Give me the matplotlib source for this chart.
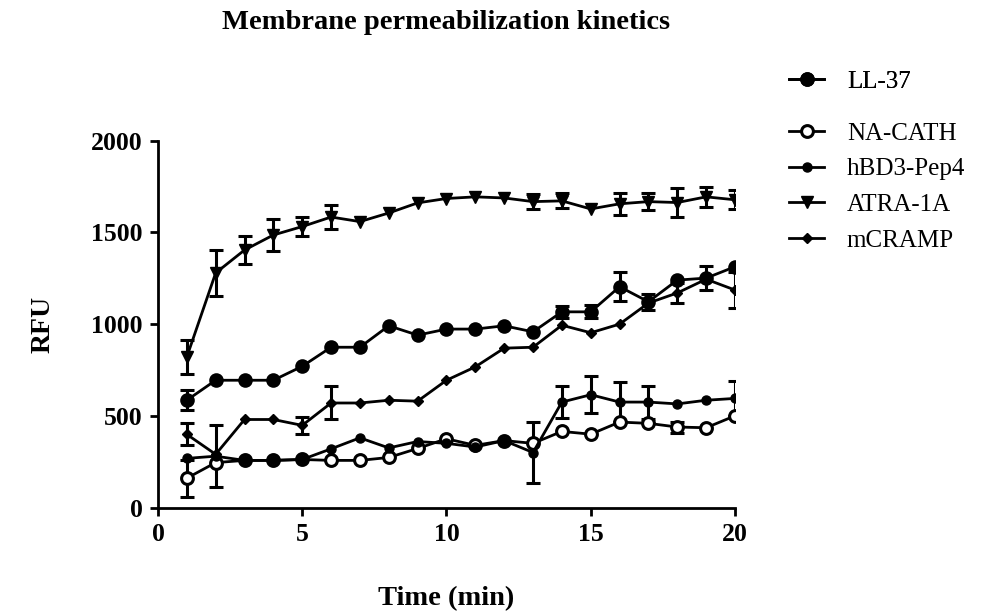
import matplotlib
matplotlib.use('Agg')
import matplotlib.pyplot as plt
from matplotlib.lines import Line2D
import numpy as np

# Data
time_min = np.arange(1, 21)

ll37 = [585, 694, 694, 694, 770, 874, 874, 991, 940, 973,
        973, 991, 958, 1067, 1067, 1204, 1122, 1240, 1251, 1313]
ll37_err = [55, 0, 0, 0, 0, 0, 0, 0, 0, 0,
            0, 0, 0, 32, 35, 78, 45, 0, 65, 0]

nacath = [160, 245, 257, 257, 262, 257, 257, 273, 322, 375,
          339, 365, 350, 415, 400, 466, 459, 439, 435, 500]
nacath_err = [100, 0, 0, 0, 0, 0, 0, 0, 0, 0,
              0, 0, 0, 0, 0, 0, 0, 30, 0, 0]

hbd3 = [268, 280, 257, 257, 262, 320, 380, 325, 360, 350,
        330, 365, 300, 575, 615, 575, 575, 565, 585, 595]
hbd3_err = [0, 170, 0, 0, 0, 0, 0, 0, 0, 0,
            0, 0, 165, 85, 100, 110, 90, 0, 0, 95]

atra = [821, 1279, 1404, 1486, 1532, 1584, 1559, 1606, 1661, 1685,
        1694, 1688, 1668, 1672, 1628, 1656, 1668, 1663, 1694, 1678]
atra_err = [95, 125, 77, 88, 52, 63, 0, 0, 0, 0,
            0, 0, 41, 41, 0, 60, 47, 79, 55, 52]

mcramp = [399, 290, 480, 480, 448, 570, 570, 585, 580, 694,
          767, 869, 874, 994, 953, 1000, 1115, 1170, 1245, 1186]
mcramp_err = [60, 0, 0, 0, 45, 90, 0, 0, 0, 0,
              0, 0, 0, 0, 0, 0, 0, 55, 0, 100]

labels = ['LL-37', 'NA-CATH', 'hBD3-Pep4', 'ATRA-1A', 'mCRAMP']

plt.rcParams['font.family'] = ['Liberation Serif', 'DejaVu Serif']

fig = plt.figure(figsize=(9.83, 6.14), dpi=100)
ax = fig.add_axes([0.1607, 0.1734, 0.587, 0.5974])

styles = [
    dict(marker='o', ms=9, mfc='black', mec='black', mew=1.5),
    dict(marker='o', ms=8.5, mfc='white', mec='black', mew=2.2),
    dict(marker='o', ms=6.5, mfc='black', mec='black', mew=1.0),
    dict(marker='v', ms=9, mfc='black', mec='black', mew=1.0),
    dict(marker='D', ms=5.5, mfc='black', mec='black', mew=1.0),
]
series = [(ll37, ll37_err), (nacath, nacath_err), (hbd3, hbd3_err),
          (atra, atra_err), (mcramp, mcramp_err)]

handles = []
for (vals, errs), st, lab in zip(series, styles, labels):
    vals = np.array(vals, dtype=float)
    errs = np.array(errs, dtype=float)
    m = errs > 0
    # only draw bars that stick out of the marker
    ax.errorbar(time_min[m], vals[m], yerr=errs[m], fmt='none', ecolor='black',
                elinewidth=2.2, capsize=4.8, capthick=2.2, zorder=2)
    ax.plot(time_min, vals, color='black', lw=2.0, zorder=3, **st)
    handles.append(Line2D([], [], color='black', lw=2.0, label=lab, **st))

ax.set_xlim(0, 20)
ax.set_ylim(0, 2000)
ax.set_xticks([0, 5, 10, 15, 20])
ax.set_yticks([0, 500, 1000, 1500, 2000])
for side in ['top', 'right']:
    ax.spines[side].set_visible(False)
for side in ['left', 'bottom']:
    ax.spines[side].set_linewidth(2.0)
ax.tick_params(direction='out', length=6, width=2.0, pad=5,
               labelsize=18.5)
for t in ax.get_xticklabels() + ax.get_yticklabels():
    t.set_fontweight('bold')

ax.set_xlabel('Time (min)', fontsize=20.5, fontweight='bold')
ax.set_ylabel('RFU', fontsize=20, fontweight='bold')
ax.xaxis.set_label_coords(0.5, -0.215)
ax.yaxis.set_label_coords(-0.178, 0.5)

fig.text(0.4537, 0.963, 'Membrane permeabilization kinetics', ha='center',
         va='center', fontsize=20.5, fontweight='bold')

leg_kw = dict(loc='upper left', frameon=False, fontsize=18, handlelength=1.4,
              handletextpad=0.9, borderpad=0, borderaxespad=0)
leg1 = fig.legend(handles=handles[:1], bbox_to_anchor=(0.803, 1 - 70 / 614),
                  **leg_kw)
fig.add_artist(leg1)
fig.legend(handles=handles[1:], bbox_to_anchor=(0.803, 1 - 122 / 614),
           labelspacing=0.53, **leg_kw)

fig.savefig('out.png', dpi=100, facecolor='white')
